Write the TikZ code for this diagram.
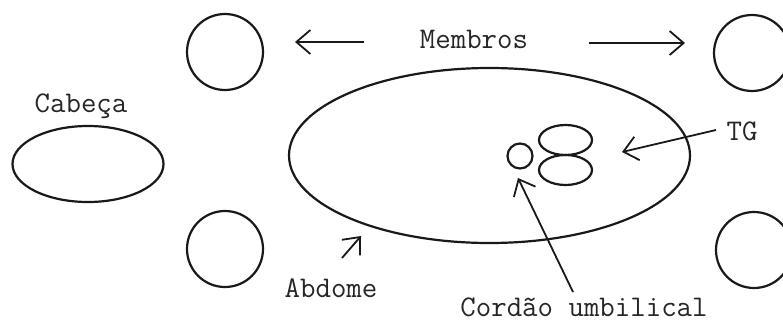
\documentclass[tikz,border=0pt]{standalone}
\usepackage{fontspec}
\usetikzlibrary{arrows.meta,shapes.geometric}
\begin{document}
\begin{tikzpicture}[x=1pt,y=-1pt,
  ink/.style={line width=2.2pt,draw=black!90},
  limb/.style={ink,circle,minimum size=76pt,inner sep=0pt},
  oval/.style={ink,ellipse,inner sep=0pt},
  lbl/.style={font=\ttfamily\fontsize{30}{30}\selectfont,inner sep=0pt,text=black!85},
  arr/.style={line width=1.8pt,draw=black!90,-{Straight Barb[length=14pt,width=24pt,line width=1.8pt]}}]
\useasboundingbox (0,0) rectangle (783,324);
% limbs
\node[limb] (tl) at (225,52) {};
\node[limb] (bl) at (225,249) {};
\node[limb] (tr) at (752,53) {};
\node[limb] (br) at (754,250) {};
% head
\node[oval,minimum width=151pt,minimum height=76pt] (head) at (88,164) {};
\node[lbl] (cab) at (81,106) {Cabeça};
% abdomen
\node[oval,minimum width=401pt,minimum height=175pt] (abd) at (489.5,155.5) {};
\node[circle,ink,minimum size=25pt,inner sep=0pt] (umb) at (520,156) {};
\node[oval,minimum width=53pt,minimum height=30pt] (tg1) at (565.5,140) {};
\node[oval,minimum width=53pt,minimum height=30pt] (tg2) at (565.5,170) {};
% labels
\node[lbl] (mem) at (474,39) {Membros};
\node[lbl] (tg) at (742,131) {TG};
\node[lbl] (abdl) at (331,288) {Abdome};
\node[lbl] (cord) at (584,307) {Cordão umbilical};
% arrow coordinates
\coordinate (l1) at (364,42);
\coordinate (l2) at (295,42);
\coordinate (r1) at (589,43);
\coordinate (r2) at (685,43);
\coordinate (t1) at (716,130);
\coordinate (t2) at (622,152);
\coordinate (a1) at (342,258);
\coordinate (a2) at (361,236);
\coordinate (c1) at (573,292);
\coordinate (c2) at (518,178);
\draw[arr] (l1) -- (l2);
\draw[arr] (r1) -- (r2);
\draw[arr] (t1) -- (t2);
\draw[arr] (a1) -- (a2);
\draw[arr] (c1) -- (c2);
\end{tikzpicture}
\end{document}
